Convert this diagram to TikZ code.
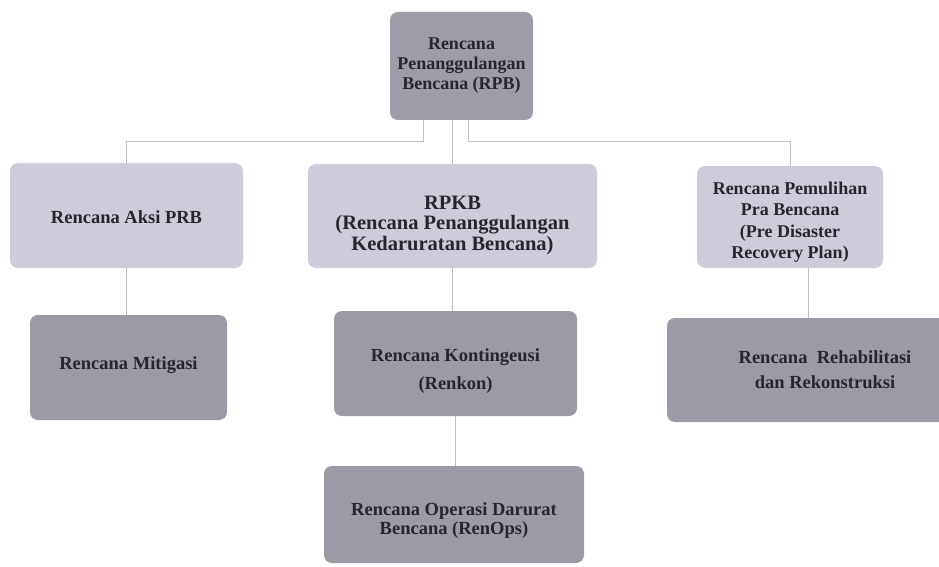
\documentclass[tikz,border=0pt]{standalone}
\usepackage{fontspec}
\setmainfont{Liberation Serif}
\definecolor{topgray}{RGB}{158,156,168}
\definecolor{lightbox}{RGB}{205,204,218}
\definecolor{darkbox}{RGB}{156,154,164}
\definecolor{linkgray}{RGB}{190,190,196}
\definecolor{ink}{RGB}{40,38,44}
\tikzset{
  box/.style={rectangle, rounded corners=8pt},
  txt/.style={align=center, inner sep=0pt, text=ink, font=\bfseries\fontsize{18.5}{21}\selectfont},
  link/.style={draw=linkgray, line width=0.9pt},
}

\begin{document}
\begin{tikzpicture}[x=1pt,y=-1pt]
\useasboundingbox (0,0) rectangle (939,567);
\clip (0,0) rectangle (939,567);
\node[box, fill=topgray, minimum width=143pt, minimum height=108pt,
  label={[txt, font=\bfseries\fontsize{18}{20}\selectfont]center:{Rencana\\Penanggulangan\\Bencana (RPB)}}] (rpb) at (461.5,66) {};
\node[box, fill=lightbox, minimum width=233pt, minimum height=105pt,
  label={[txt, yshift=-1.5pt]center:{Rencana Aksi PRB}}] (aksi) at (126.5,215.5) {};
\node[box, fill=lightbox, minimum width=289pt, minimum height=104pt,
  label={[txt, yshift=-9pt, font=\bfseries\fontsize{20.5}{20.5}\selectfont]center:{RPKB\\(Rencana Penanggulangan\\Kedaruratan Bencana)}}] (rpkb) at (452.5,216) {};
\node[box, fill=lightbox, minimum width=186pt, minimum height=102pt,
  label={[txt, yshift=-5pt, font=\bfseries\fontsize{18}{21.5}\selectfont]center:{Rencana Pemulihan\\Pra Bencana\\(Pre Disaster\\Recovery Plan)}}] (pemulihan) at (790,217) {};
\node[box, fill=darkbox, minimum width=197pt, minimum height=105pt,
  label={[txt, yshift=2pt]center:{Rencana Mitigasi}}] (mitigasi) at (128.5,367.5) {};
\node[box, fill=darkbox, minimum width=243pt, minimum height=105pt,
  label={[txt, yshift=-8pt, font=\bfseries\fontsize{18.5}{28}\selectfont]center:{Rencana Kontingeusi\\(Renkon)}}] (renkon) at (455.5,363.5) {};
\node[box, fill=darkbox, minimum width=316pt, minimum height=104pt,
  label={[txt, font=\bfseries\fontsize{18.5}{25}\selectfont]center:{Rencana~ Rehabilitasi\\dan Rekonstruksi}}] (rehab) at (825,370) {};
\node[box, fill=darkbox, minimum width=260pt, minimum height=97pt,
  label={[txt, yshift=-6pt, font=\bfseries\fontsize{18.5}{19}\selectfont]center:{Rencana Operasi Darurat\\Bencana (RenOps)}}] (renops) at (454,514.5) {};
\coordinate (bus) at (0,141);

\path[link] ([xshift=-38.5pt]rpb.south) |- (bus -| aksi.north) -- (aksi.north);
\path[link] (rpb.south -| rpkb.north) -- (rpkb.north);
\path[link] ([xshift=6.5pt]rpb.south) |- (bus -| pemulihan.north) -- (pemulihan.north);
\path[link] (aksi.south) -- (aksi.south |- mitigasi.north);
\path[link] (rpkb.south) -- (rpkb.south |- renkon.north);
\path[link] ([xshift=18pt]pemulihan.south) -- ([xshift=18pt]pemulihan.south |- rehab.north);
\path[link] (renkon.south) -- (renkon.south |- renops.north);
\end{tikzpicture}
\end{document}
